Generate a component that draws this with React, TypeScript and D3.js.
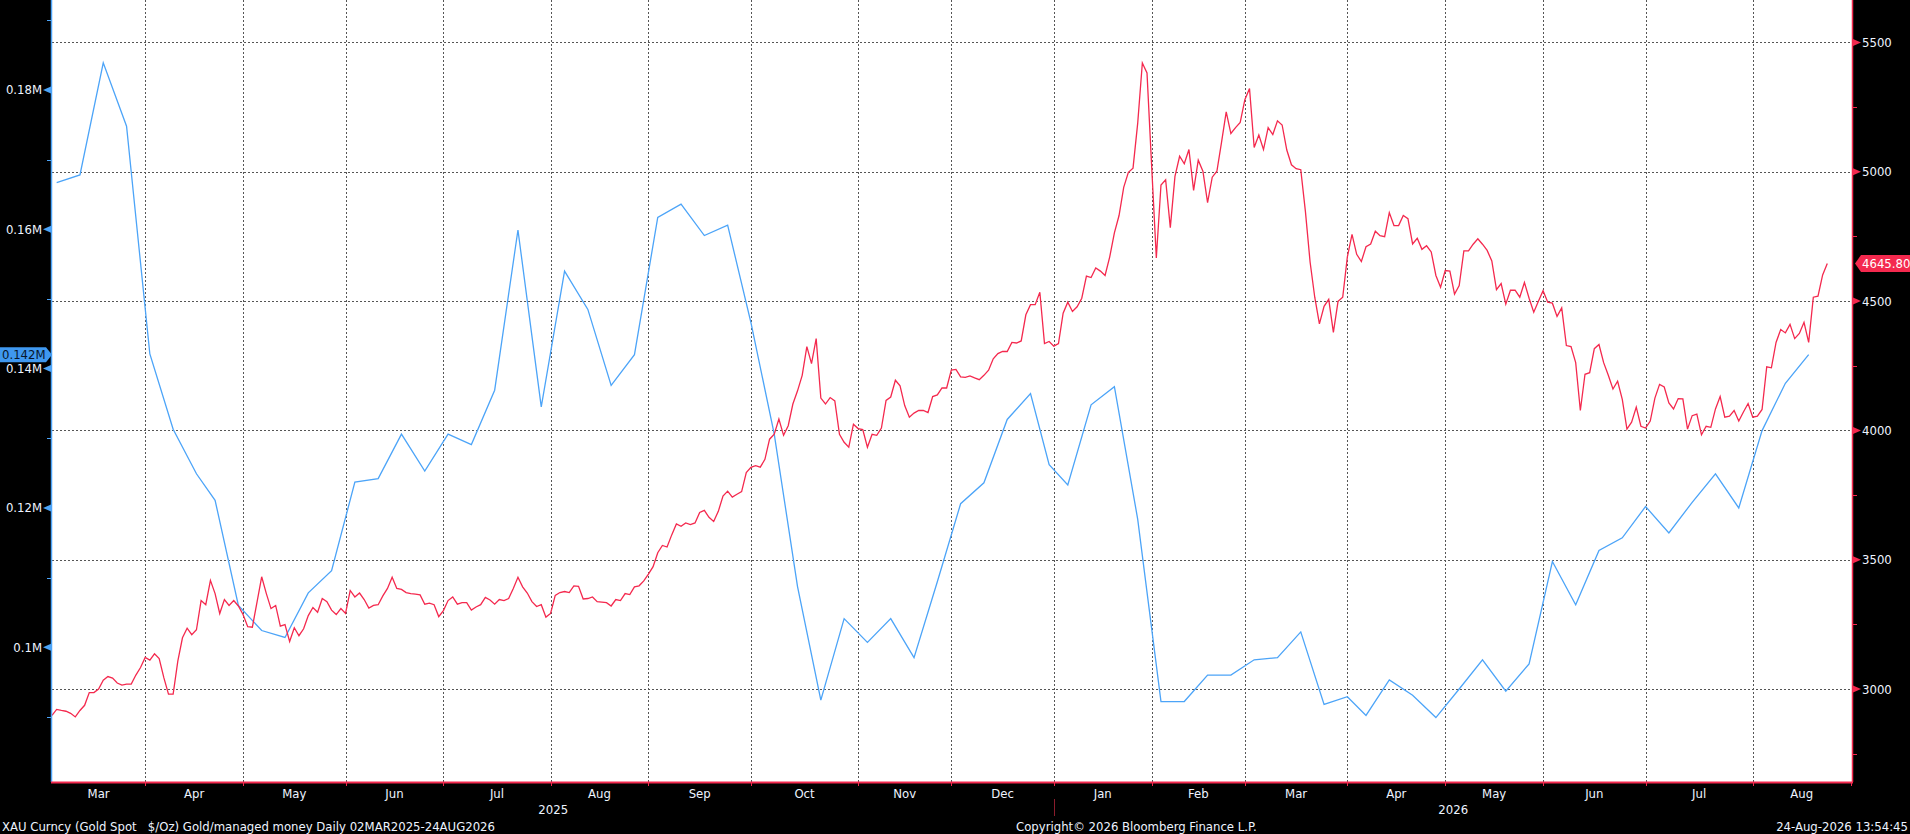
import { useEffect, useRef } from 'react'
import * as d3 from 'd3'

const W = 1910
const H = 834

const START = '2025-03-03'
const END = '2026-09-04'
const HOLIDAYS = ['2025-04-18', '2025-12-25', '2026-01-01', '2026-04-03']

// XAU spot, one value per trading day from 03MAR2025
const GOLD = [
  2898, 2921, 2917, 2914, 2906, 2892, 2917, 2937, 2986, 2986,
  3000, 3034, 3048, 3042, 3023, 3015, 3019, 3019, 3054, 3083,
  3122, 3112, 3136, 3118, 3044, 2980, 2980, 3108, 3198, 3235,
  3210, 3229, 3342, 3326, 3420, 3369, 3292, 3346, 3323, 3342,
  3321, 3288, 3241, 3239, 3336, 3434, 3369, 3311, 3323, 3243,
  3249, 3184, 3237, 3206, 3233, 3284, 3315, 3297, 3350, 3338,
  3305, 3288, 3311, 3292, 3381, 3356, 3371, 3346, 3313, 3323,
  3326, 3360, 3389, 3432, 3389, 3385, 3373, 3369, 3367, 3364,
  3328, 3332, 3326, 3280, 3303, 3342, 3356, 3328, 3334, 3334,
  3305, 3317, 3326, 3354, 3344, 3328, 3346, 3342, 3350, 3389,
  3432, 3395, 3371, 3338, 3319, 3326, 3278, 3292, 3362, 3373,
  3377, 3373, 3399, 3397, 3348, 3350, 3356, 3338, 3336, 3334,
  3321, 3346, 3342, 3369, 3365, 3395, 3399, 3418, 3444, 3473,
  3527, 3555, 3549, 3596,
  3638, 3629, 3642, 3636, 3642, 3683, 3691, 3664, 3648, 3687,
  3746, 3765, 3742, 3753, 3763, 3837, 3857, 3864, 3858, 3888,
  3966, 3985, 4044, 3981, 4018, 4102, 4153, 4213, 4324, 4258,
  4355, 4125, 4102, 4127, 4114, 3985, 3954, 3935, 4024, 4007,
  4003, 3935, 3985, 3981, 4009, 4116, 4129, 4194, 4172, 4096,
  4051, 4067, 4077, 4077, 4069, 4131, 4137, 4164, 4164, 4233,
  4236, 4207, 4205, 4211, 4203, 4196, 4213, 4233, 4277, 4297,
  4305, 4305, 4340, 4338, 4346, 4447, 4486, 4486, 4534, 4336,
  4344, 4326, 4336, 4453, 4496, 4460, 4478, 4511, 4597, 4591,
  4628, 4616, 4599, 4671, 4764, 4831, 4940, 4998, 5014, 5187,
  5421, 5382, 5021, 4667, 4949, 4969, 4784, 4982, 5060, 5031,
  5086, 4928, 5045, 5002, 4881, 4979, 5002, 5115, 5232, 5148,
  5171, 5191, 5279, 5322, 5094, 5142, 5086, 5171, 5144, 5197,
  5181, 5084, 5027, 5012, 5008, 4846, 4651, 4515,
  4412, 4480, 4507, 4379, 4499, 4515, 4671, 4758, 4681, 4653,
  4710, 4721, 4770, 4753, 4749, 4842, 4792, 4792, 4831, 4819,
  4721, 4743, 4700, 4714, 4690, 4599, 4554, 4618, 4616, 4527,
  4560, 4694, 4694, 4720, 4741, 4720, 4696, 4655, 4544, 4568,
  4488, 4542, 4542, 4515, 4572, 4511, 4457, 4499, 4540, 4496,
  4492, 4441, 4474, 4328, 4324, 4262, 4077, 4217, 4223, 4316,
  4332, 4262, 4213, 4160, 4190, 4120, 4005, 4032, 4090, 4016,
  4009, 4036, 4125, 4178, 4168, 4106, 4083, 4123, 4122, 4005,
  4057, 4063, 3983, 4016, 4012, 4083, 4131, 4051, 4055, 4077,
  4036, 4071, 4104, 4051, 4055, 4081, 4246, 4242, 4340, 4390,
  4377, 4410, 4355, 4375, 4418, 4340, 4515, 4519, 4601, 4645.8,
]

// managed money net long (thousands of contracts), weekly on Tuesdays from 04MAR2025
const MM_START = '2025-03-04'
const MANAGED_MONEY = [
  166.7, 167.8, 183.9, 174.8, 142.1, 131.3, 124.9, 121.1, 106.0, 102.4,
  101.4, 107.8, 111.0, 123.7, 124.2, 130.6, 125.3, 130.6, 129.1, 136.9,
  159.9, 134.5, 154.0, 148.5, 137.6, 142.0, 161.7, 163.6, 159.1, 160.6,
  146.6, 130.6, 108.7, 92.4, 104.1, 100.7, 104.1, 98.5, 109.4, 120.6,
  123.6, 132.7, 136.4, 126.2, 123.3, 134.8, 137.4, 118.4, 92.2, 92.2,
  96.0, 96.0, 98.2, 98.5, 102.2, 91.8, 92.9, 90.2, 95.3, 93.1,
  89.9, 94.0, 98.2, 93.7, 97.6, 112.3, 106.1, 113.9, 115.7, 120.2,
  116.4, 120.8, 124.9, 120.0, 131.1, 137.9, 142.0,
]

const MONTHS = ['Mar', 'Apr', 'May', 'Jun', 'Jul', 'Aug', 'Sep', 'Oct', 'Nov', 'Dec',
  'Jan', 'Feb', 'Mar', 'Apr', 'May', 'Jun', 'Jul', 'Aug']
const YEARS = ['2025', '2026']

const LEFT_TICKS = [100, 120, 140, 160, 180]
const LEFT_LABELS = ['0.1M', '0.12M', '0.14M', '0.16M', '0.18M']
const LEFT_MINOR = [90, 110, 130, 150, 170, 190]
const RIGHT_TICKS = [3000, 3500, 4000, 4500, 5000, 5500]
const RIGHT_MINOR = [2750, 3250, 3750, 4250, 4750, 5250]

const FOOT_LEFT = 'XAU Curncy (Gold Spot\u00a0\u00a0\u00a0$/Oz) Gold/managed money Daily 02MAR2025-24AUG2026'
const FOOT_MID = 'Copyright\u00a9 2026 Bloomberg Finance L.P.'
const FOOT_RIGHT = '24-Aug-2026 13:54:45'

const BLUE = '#4ca4f8'
const RED = '#f4294e'
const FONT = "'Liberation Sans Narrow', 'DejaVu Sans Condensed', 'Liberation Sans', sans-serif"
const FS = 13

export default function App() {
  const ref = useRef<SVGSVGElement>(null)

  useEffect(() => {
    if (!ref.current) return
    const svg = d3.select(ref.current)
    svg.selectAll('*').remove()

    const fmt = d3.timeFormat('%Y-%m-%d')
    const parse = d3.timeParse('%Y-%m-%d')
    const hol = new Set(HOLIDAYS)
    const days = d3.timeDay.range(parse(START)!, parse(END)!)
      .filter(d => d.getDay() !== 0 && d.getDay() !== 6 && !hol.has(fmt(d)))
    const idxOf = new Map(days.map((d, i) => [fmt(d), i]))

    const left = 52, right = 1852, top = 0, bottom = 782
    const x = d3.scaleLinear().domain([0, 386.3]).range([left, right])
    const yR = d3.scaleLinear().domain([2640.4, 5664.3]).range([bottom, top])
    const yL = d3.scaleLinear().domain([80.65, 192.92]).range([bottom, top])

    svg.append('rect').attr('width', W).attr('height', H).attr('fill', '#000')
    svg.append('rect').attr('x', left).attr('y', top)
      .attr('width', right - left).attr('height', bottom - top).attr('fill', '#fff')

    // month boundaries: tick sits on the last trading day of the previous month
    const bounds: number[] = []
    let m = d3.timeMonth.floor(d3.timeMonth.offset(parse(START)!, 1))
    while (m <= parse('2026-09-01')!) {
      const first = days.findIndex(d => d >= m)
      bounds.push(first - 1)
      m = d3.timeMonth.offset(m, 1)
    }
    const grid = svg.append('g').attr('stroke', '#555').attr('stroke-dasharray', '2,2').attr('stroke-width', 1)
    bounds.slice(0, -1).forEach(b => {
      const px = Math.round(x(b)) + 0.5
      grid.append('line').attr('x1', px).attr('x2', px).attr('y1', top).attr('y2', bottom)
    })
    RIGHT_TICKS.forEach(v => {
      const py = Math.round(yR(v)) + 0.5
      grid.append('line').attr('x1', left).attr('x2', right).attr('y1', py).attr('y2', py)
    })

    // series
    const blue = d3.line<number>()
      .x((_, i) => x(idxOf.get(fmt(d3.timeWeek.offset(parse(MM_START)!, i)))!))
      .y(d => yL(d))
    svg.append('path').attr('d', blue(MANAGED_MONEY)).attr('fill', 'none')
      .attr('stroke', BLUE).attr('stroke-width', 1.3)

    const red = d3.line<number>().x((_, i) => x(i)).y(d => yR(d))
    svg.append('path').attr('d', red(GOLD)).attr('fill', 'none')
      .attr('stroke', RED).attr('stroke-width', 1.3)

    // axes lines
    svg.append('line').attr('x1', left - 0.5).attr('x2', left - 0.5).attr('y1', top).attr('y2', bottom)
      .attr('stroke', BLUE).attr('stroke-width', 1.5)
    svg.append('line').attr('x1', right + 0.5).attr('x2', right + 0.5).attr('y1', top).attr('y2', bottom)
      .attr('stroke', RED).attr('stroke-width', 1.5)
    svg.append('line').attr('x1', left - 1).attr('x2', right + 1).attr('y1', bottom + 0.5).attr('y2', bottom + 0.5)
      .attr('stroke', RED).attr('stroke-width', 2)

    const txt = (g: d3.Selection<any, unknown, null, undefined>) =>
      g.append('text').attr('font-family', FONT).attr('font-size', FS).attr('fill', '#eef4ff')

    // left axis
    LEFT_TICKS.forEach((v, i) => {
      const py = yL(v)
      svg.append('path').attr('d', `M${left - 1},${py - 3.5}L${left - 9},${py}L${left - 1},${py + 3.5}Z`).attr('fill', BLUE)
      txt(svg).attr('x', left - 10).attr('y', py + 4.5).attr('text-anchor', 'end').text(LEFT_LABELS[i])
    })
    LEFT_MINOR.forEach(v => {
      const py = Math.round(yL(v)) + 0.5
      svg.append('line').attr('x1', left - 5).attr('x2', left).attr('y1', py).attr('y2', py)
        .attr('stroke', BLUE).attr('stroke-width', 1)
    })

    // right axis
    RIGHT_TICKS.forEach(v => {
      const py = yR(v)
      svg.append('path').attr('d', `M${right + 1},${py - 3.5}L${right + 9},${py}L${right + 1},${py + 3.5}Z`).attr('fill', RED)
      txt(svg).attr('x', right + 10).attr('y', py + 4.5).text(String(v))
    })
    RIGHT_MINOR.forEach(v => {
      const py = Math.round(yR(v)) + 0.5
      svg.append('line').attr('x1', right).attr('x2', right + 5).attr('y1', py).attr('y2', py)
        .attr('stroke', RED).attr('stroke-width', 1)
    })

    // x axis ticks & labels
    bounds.forEach(b => {
      const px = Math.round(x(b)) + 0.5
      svg.append('line').attr('x1', px).attr('x2', px).attr('y1', bottom).attr('y2', bottom + 4)
        .attr('stroke', RED).attr('stroke-width', 1)
    })
    const edges = [left, ...bounds.map(b => x(b))]
    MONTHS.forEach((lab, i) => {
      txt(svg).attr('x', (edges[i] + edges[i + 1]) / 2).attr('y', 798).attr('text-anchor', 'middle').text(lab)
    })
    const janX = Math.round(x(bounds[9])) + 0.5
    svg.append('line').attr('x1', janX).attr('x2', janX).attr('y1', 799).attr('y2', 816)
      .attr('stroke', '#8a1c2c').attr('stroke-width', 1)
    ;[[left, janX], [janX, right]].forEach(([a, b], i) => {
      txt(svg).attr('x', (a + b) / 2).attr('y', 814).attr('text-anchor', 'middle').text(YEARS[i])
    })

    // last value labels
    const lastMM = MANAGED_MONEY[MANAGED_MONEY.length - 1]
    const by = yL(lastMM)
    svg.append('path').attr('d', `M0,${by - 7.5}H${left - 6}L${left},${by}L${left - 6},${by + 7.5}H0Z`).attr('fill', '#3f98f0')
    txt(svg).attr('x', 2).attr('y', by + 4.5).attr('fill', '#07162c').text(`${(lastMM / 1000).toFixed(3)}M`)

    const lastG = GOLD[GOLD.length - 1]
    const ry = yR(lastG)
    svg.append('path').attr('d', `M${right + 3},${ry}L${right + 9},${ry - 8.5}H${W}V${ry + 8.5}H${right + 9}Z`).attr('fill', RED)
    txt(svg).attr('x', right + 10).attr('y', ry + 4.5).attr('fill', '#fff').text(lastG.toFixed(2))

    // footer
    txt(svg).attr('x', 2).attr('y', 831).text(FOOT_LEFT)
    txt(svg).attr('x', 1016).attr('y', 831).text(FOOT_MID)
    txt(svg).attr('x', 1908).attr('y', 831).attr('text-anchor', 'end').text(FOOT_RIGHT)
  }, [])

  return (
    <div style={{ position: 'fixed', left: 0, top: 0 }}>
      <svg ref={ref} width={W} height={H} style={{ display: 'block' }} />
    </div>
  )
}
